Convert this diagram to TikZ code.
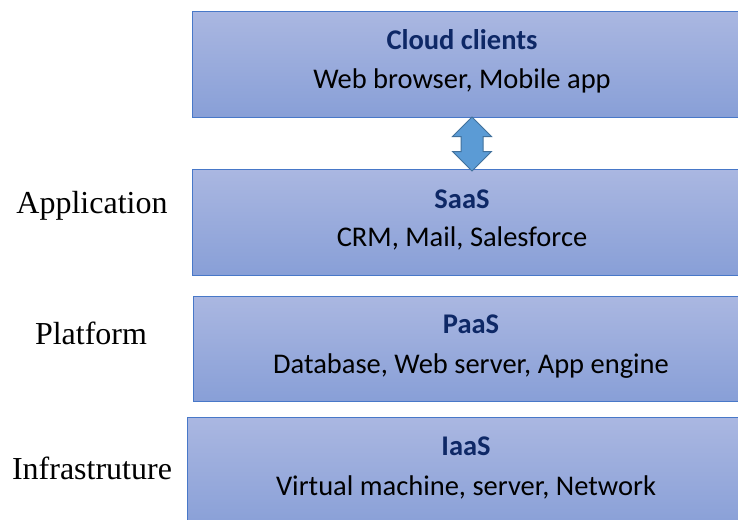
\documentclass[tikz,border=0pt]{standalone}
\usepackage{fontspec}
\setmainfont{Liberation Serif}
\newfontfamily\boxfont{Carlito}
\usetikzlibrary{shapes.arrows}
\definecolor{layertop}{RGB}{170,183,225}
\definecolor{layerbot}{RGB}{136,159,215}
\definecolor{layerline}{RGB}{72,120,200}
\definecolor{navy}{RGB}{14,40,102}
\definecolor{arrowfill}{RGB}{91,155,213}
\definecolor{arrowline}{RGB}{65,113,156}

\begin{document}
\begin{tikzpicture}[x=1pt, y=-1pt,
  layer/.style={anchor=north west, inner sep=0pt, minimum width=580pt,
    draw=layerline, line width=1pt, top color=layertop, bottom color=layerbot},
  head/.style={anchor=base, text=navy, font=\boxfont\fontsize{28.5}{34}\selectfont\bfseries},
  body/.style={anchor=base, font=\boxfont\fontsize{28.5}{34}\selectfont},
  side/.style={anchor=base, font=\fontsize{32}{38}\selectfont}]
  \useasboundingbox (0,0) rectangle (738,519);
  \node[layer, minimum height=106pt] (cloud) at (192,11) {};
  \node[layer, minimum height=106pt] (saas) at (192,169) {};
  \node[layer, minimum height=105pt] (paas) at (193,296) {};
  \node[layer, minimum height=112pt] (iaas) at (187,417) {};
  \node[head] (cloudT) at (462,50) {Cloud clients};
  \node[body] (cloudB) at (462,88) {Web browser, Mobile app};
  \node[head] (saasT) at (462,208) {SaaS};
  \node[body] (saasB) at (462,246) {CRM, Mail, Salesforce};
  \node[head] (paasT) at (471,333) {PaaS};
  \node[body] (paasB) at (471,373) {Database, Web server, App engine};
  \node[head] (iaasT) at (466,455) {IaaS};
  \node[body] (iaasB) at (466,495) {Virtual machine, server, Network};
  \node[side] (app) at (92,213) {Application};
  \node[side] (plat) at (91,344) {Platform};
  \node[side] (infra) at (92,479) {Infrastruture};
  \node[double arrow, rotate=90, draw=arrowline, fill=arrowfill, line width=1pt,
    inner xsep=0pt, inner ysep=10.5pt, minimum height=54pt,
    double arrow head extend=8.5pt] (link) at (472,144) {};
\end{tikzpicture}
\end{document}
